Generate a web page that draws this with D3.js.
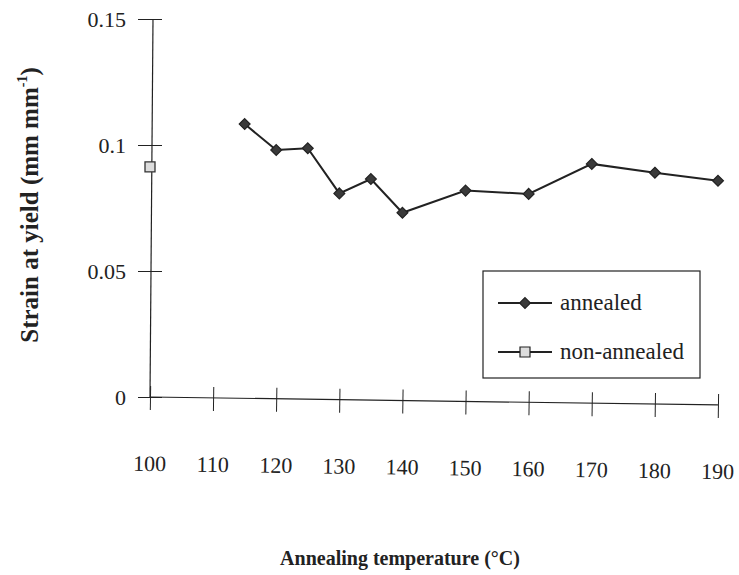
<!DOCTYPE html>
<html>
<head>
<meta charset="utf-8">
<script src="https://cdn.jsdelivr.net/npm/d3@7"></script>
<style>
  body { margin: 0; background: #fff; }
  text { font-family: "Liberation Serif", "DejaVu Serif", serif; fill: #222; }
</style>
</head>
<body>
<div id="chart"></div>
<script>
// data
var annealedTemp = [115, 120, 125, 130, 135, 140, 150, 160, 170, 180, 190];
var annealedStrain = [0.1083, 0.0980, 0.0987, 0.0808, 0.0865, 0.0731, 0.0819, 0.0806, 0.0925, 0.0890, 0.0858];
var nonAnnealedTemp = [100];
var nonAnnealedStrain = [0.0913];
var xTicks = [100, 110, 120, 130, 140, 150, 160, 170, 180, 190];
var yTicks = [0, 0.05, 0.1, 0.15];

var W = 739, H = 575;

var svg = d3.select("#chart")
  .append("svg")
  .attr("width", W)
  .attr("height", H);

//SCALES
var x = d3.scaleLinear().domain([100, 190]).range([150, 718]);
var y = d3.scaleLinear().domain([0, 0.15]).range([397, 19]);

var ink = "#222";
var serif = '"Liberation Serif", "DejaVu Serif", serif';

//YAXIS
var yAxis = d3.axisLeft(y).tickValues(yTicks).tickSize(12).tickPadding(12)
  .tickFormat(function(d) { return d === 0 ? "0" : String(d); });
var gy = svg.append("g")
  .attr("transform", "translate(" + x(100) + ",0)")
  .attr("font-family", serif)
  .call(yAxis);
gy.select(".domain").remove();
gy.selectAll(".tick line").attr("x2", -12).attr("x1", 12).attr("stroke", ink);
gy.selectAll(".tick text").style("font-size", "22px").attr("fill", ink);
gy.append("line")
  .attr("x1", 3).attr("x2", 0)
  .attr("y1", y(0.15)).attr("y2", y(0))
  .attr("stroke", ink).attr("stroke-width", 1.2);

//XAXIS (scan is slightly skewed, so the axis is tilted a little)
var xAxis = d3.axisBottom(x).tickValues(xTicks).tickSize(12);
var gx = svg.append("g")
  .attr("transform", "translate(0," + y(0) + ") rotate(0.8," + x(100) + ",0)")
  .attr("font-family", serif)
  .call(xAxis);
gx.select(".domain").remove();
gx.selectAll(".tick line").attr("y1", -11).attr("y2", 13).attr("stroke", ink);
gx.selectAll(".tick text")
  .style("font-size", "22px").attr("fill", ink)
  .attr("y", 74).attr("dy", 0);
gx.append("line")
  .attr("x1", x(100)).attr("x2", x(190))
  .attr("y1", 0).attr("y2", 0)
  .attr("stroke", ink).attr("stroke-width", 1.2);

//AXIS TITLES
svg.append("text")
  .attr("x", 400).attr("y", 565)
  .attr("text-anchor", "middle")
  .style("font-size", "20px").style("font-weight", "bold")
  .text("Annealing temperature (°C)");

var yt = svg.append("text")
  .attr("transform", "translate(38,205) rotate(-90)")
  .attr("text-anchor", "middle")
  .style("font-size", "25px").style("font-weight", "bold");
yt.append("tspan").text("Strain at yield (mm mm");
yt.append("tspan").attr("dy", -11).style("font-size", "14px").text("-1");
yt.append("tspan").attr("dy", 11).text(")");

//SERIES
var annealed = annealedTemp.map(function(t, i) { return [t, annealedStrain[i]]; });
var line = d3.line().x(function(d) { return x(d[0]); }).y(function(d) { return y(d[1]); });

svg.append("path")
  .datum(annealed)
  .attr("d", line)
  .attr("fill", "none")
  .attr("stroke", ink)
  .attr("stroke-width", 2);

var diamond = d3.symbol().type(d3.symbolDiamond2).size(75);
var square = d3.symbol().type(d3.symbolSquare).size(100);

svg.selectAll(".ann")
  .data(annealed)
  .enter().append("path")
  .attr("class", "ann")
  .attr("d", diamond)
  .attr("transform", function(d) { return "translate(" + x(d[0]) + "," + y(d[1]) + ")"; })
  .attr("fill", "#3a3a3a")
  .attr("stroke", "#222")
  .attr("stroke-width", 1.2);

svg.selectAll(".non")
  .data(nonAnnealedTemp.map(function(t, i) { return [t, nonAnnealedStrain[i]]; }))
  .enter().append("path")
  .attr("class", "non")
  .attr("d", square)
  .attr("transform", function(d) { return "translate(" + x(d[0]) + "," + y(d[1]) + ")"; })
  .attr("fill", "#ddd")
  .attr("stroke", "#333")
  .attr("stroke-width", 1.3);

//LEGEND
var lg = svg.append("g").attr("transform", "translate(483,271)");
lg.append("rect")
  .attr("width", 217).attr("height", 107)
  .attr("fill", "#fff").attr("stroke", ink).attr("stroke-width", 1.2);

var items = [
  { label: "annealed", sym: diamond, fill: "#3a3a3a" },
  { label: "non-annealed", sym: square, fill: "#ddd" }
];
items.forEach(function(it, i) {
  var yy = 32 + i * 49;
  lg.append("line")
    .attr("x1", 15).attr("x2", 69)
    .attr("y1", yy).attr("y2", yy)
    .attr("stroke", ink).attr("stroke-width", 2);
  lg.append("path")
    .attr("d", it.sym)
    .attr("transform", "translate(42," + yy + ")")
    .attr("fill", it.fill).attr("stroke", "#222").attr("stroke-width", 1.2);
  lg.append("text")
    .attr("x", 77).attr("y", yy + 7)
    .style("font-size", "23px")
    .text(it.label);
});
</script>
</body>
</html>
